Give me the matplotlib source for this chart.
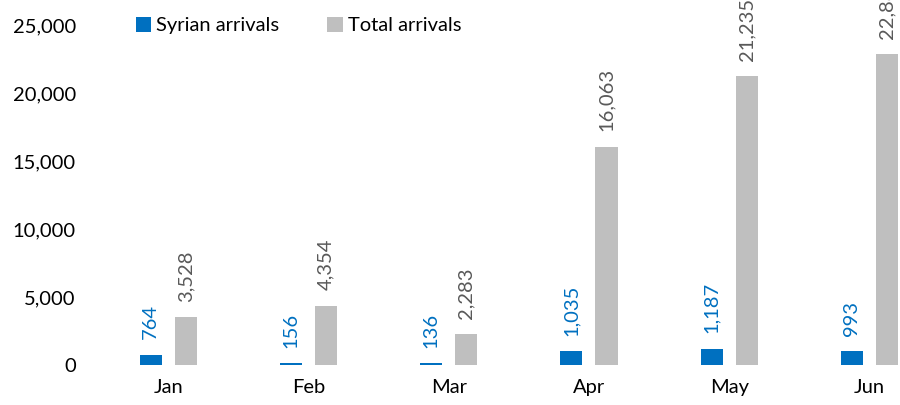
import numpy as np
import matplotlib
matplotlib.use("Agg")
import matplotlib.pyplot as plt

plt.rcParams['font.family'] = ['Lato', 'DejaVu Sans']

months = ['Jan', 'Feb', 'Mar', 'Apr', 'May', 'Jun']
syrian = [764, 156, 136, 1035, 1187, 993]
total = [3528, 4354, 2283, 16063, 21235, 22880]
yticks = [0, 5000, 10000, 15000, 20000, 25000]

blue = '#0070C0'
grey = '#BFBFBF'
label_grey = '#595959'

fig = plt.figure(figsize=(9, 4.05), dpi=100)
# plot area runs past the right edge, as in the cropped original
ax = fig.add_axes([0.109, 0.099, 0.935, 0.839])

x = np.arange(len(months))
w = 0.157
off = 0.125
b1 = ax.bar(x - off, syrian, w, color=blue, label='Syrian arrivals')
b2 = ax.bar(x + off, total, w, color=grey, label='Total arrivals')

for bars, vals, col in [(b1, syrian, blue), (b2, total, label_grey)]:
    for r, v in zip(bars, vals):
        ax.annotate(f'{v:,}', (r.get_x() + r.get_width() / 2, v),
                    xytext=(0, 11), textcoords='offset points',
                    rotation=90, ha='center', va='bottom',
                    fontsize=14.5, color=col, annotation_clip=False)

ax.set_xlim(-0.5, len(months) - 0.5)
ax.set_ylim(0, 25000)
ax.set_yticks(yticks)
ax.set_yticklabels([f'{t:,}' for t in yticks])
ax.set_xticks(x)
ax.set_xticklabels(months)
ax.tick_params(axis='both', length=0, labelsize=14.5, colors='black')
ax.tick_params(axis='y', pad=16)
ax.tick_params(axis='x', pad=10)
for s in ax.spines.values():
    s.set_visible(False)

ax.legend(loc='upper left', bbox_to_anchor=(0.142, 0.978), bbox_transform=fig.transFigure,
          ncol=2, frameon=False, fontsize=14.5, handlelength=0.75, handleheight=0.75,
          handletextpad=0.25, columnspacing=2.4, borderaxespad=0)

plt.savefig('out.png', dpi=100)
